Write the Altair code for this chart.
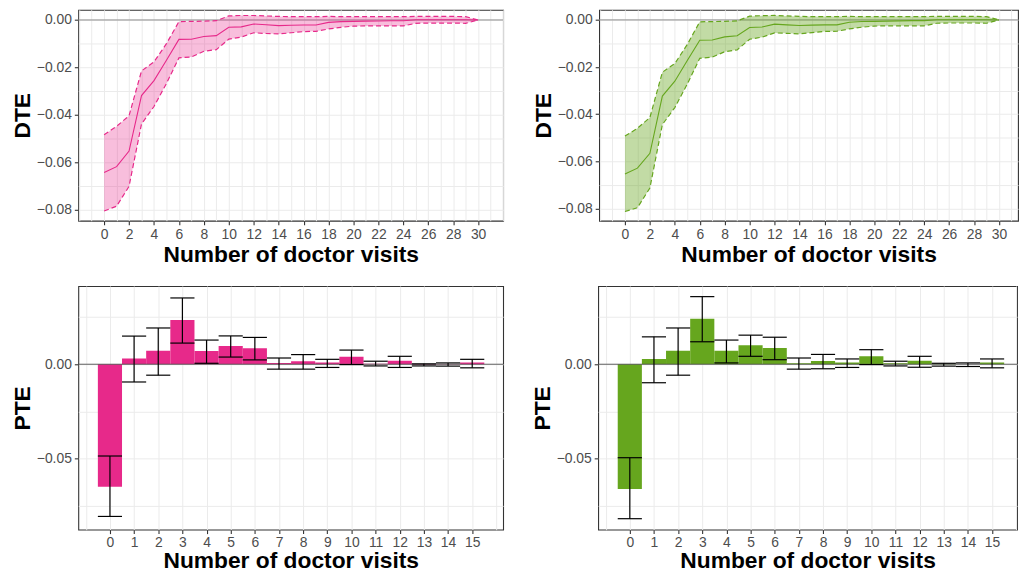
import altair as alt
import pandas as pd
import math

FONT = "Liberation Sans"
PINK = "#E7298A"
GREEN = "#66A61E"

# ---- DTE data (x = 0..30) ----
dte_x = list(range(31))
dte_pink = [-0.0644, -0.0619, -0.0553, -0.0319, -0.0256, -0.0170, -0.0082, -0.0081, -0.0070, -0.0066,
            -0.0031, -0.0029, -0.0017, -0.0020, -0.0024, -0.0022, -0.0021, -0.0021, -0.0010, -0.0007,
            -0.0006, -0.0005, -0.0004, -0.0003, -0.0003, 0.0001, 0.0001, 0.0001, 0.0001, 0.0001, 0.0000]
dte_pink_hi = [-0.0484, -0.0449, -0.0404, -0.0215, -0.0177, -0.0100, -0.0007, -0.0006, -0.0005, -0.0003,
               0.0017, 0.0019, 0.0019, 0.0017, 0.0015, 0.0014, 0.0014, 0.0014, 0.0015, 0.0014,
               0.0014, 0.0014, 0.0014, 0.0014, 0.0014, 0.0015, 0.0015, 0.0015, 0.0015, 0.0014, 0.0000]
dte_pink_lo = [-0.0806, -0.0786, -0.0702, -0.0439, -0.0365, -0.0268, -0.0160, -0.0156, -0.0132, -0.0125,
               -0.0081, -0.0072, -0.0054, -0.0057, -0.0059, -0.0054, -0.0049, -0.0048, -0.0038, -0.0031,
               -0.0026, -0.0025, -0.0025, -0.0025, -0.0025, -0.0014, -0.0013, -0.0013, -0.0013, -0.0014, 0.0000]

dte_green = [-0.0654, -0.0629, -0.0566, -0.0323, -0.0260, -0.0172, -0.0086, -0.0085, -0.0072, -0.0067,
             -0.0032, -0.0030, -0.0018, -0.0021, -0.0024, -0.0022, -0.0021, -0.0021, -0.0010, -0.0007,
             -0.0006, -0.0005, -0.0004, -0.0003, -0.0003, 0.0001, 0.0001, 0.0001, 0.0001, 0.0001, 0.0000]
dte_green_hi = [-0.0493, -0.0460, -0.0414, -0.0222, -0.0185, -0.0104, -0.0008, -0.0007, -0.0006, -0.0004,
                0.0016, 0.0018, 0.0019, 0.0017, 0.0015, 0.0014, 0.0014, 0.0014, 0.0015, 0.0014,
                0.0014, 0.0014, 0.0014, 0.0014, 0.0014, 0.0015, 0.0015, 0.0015, 0.0015, 0.0014, 0.0000]
dte_green_lo = [-0.0813, -0.0797, -0.0713, -0.0444, -0.0372, -0.0272, -0.0163, -0.0158, -0.0135, -0.0127,
                -0.0082, -0.0073, -0.0055, -0.0057, -0.0059, -0.0054, -0.0049, -0.0048, -0.0038, -0.0031,
                -0.0026, -0.0025, -0.0025, -0.0025, -0.0025, -0.0014, -0.0013, -0.0013, -0.0013, -0.0014, 0.0000]

# ---- PTE data (x = 0..15) ----
pte_x = list(range(16))
pte_pink = [-0.0649, 0.0030, 0.0072, 0.0234, 0.0070, 0.0096, 0.0084, 0.0007,
            0.0016, 0.0009, 0.0040, 0.0003, 0.0019, -0.0003, -0.0002, 0.0009]
pte_pink_hi = [-0.0486, 0.0149, 0.0192, 0.0351, 0.0128, 0.0150, 0.0142, 0.0033,
               0.0051, 0.0026, 0.0075, 0.0016, 0.0042, 0.0002, 0.0007, 0.0026]
pte_pink_lo = [-0.0806, -0.0094, -0.0058, 0.0112, 0.0005, 0.0038, 0.0023, -0.0026,
               -0.0026, -0.0017, -0.0002, -0.0009, -0.0017, -0.0009, -0.0010, -0.0019]

pte_green = [-0.0661, 0.0028, 0.0072, 0.0241, 0.0072, 0.0101, 0.0086, 0.0005,
             0.0017, 0.0009, 0.0042, 0.0005, 0.0019, -0.0002, 0.0000, 0.0009]
pte_green_hi = [-0.0495, 0.0145, 0.0192, 0.0358, 0.0128, 0.0154, 0.0143, 0.0033,
                0.0052, 0.0028, 0.0077, 0.0016, 0.0042, 0.0005, 0.0007, 0.0028]
pte_green_lo = [-0.0818, -0.0098, -0.0058, 0.0119, 0.0007, 0.0042, 0.0024, -0.0026,
                -0.0024, -0.0017, -0.0002, -0.0009, -0.0016, -0.0010, -0.0012, -0.0019]

X_TITLE = "Number of doctor visits"

TOP_H = 213
BOT_H = 246
PINK_W = 429
GREEN_W = 423
DTE_UNIT = 12.59   # px per visit, top row
PTE_UNIT = 24.39   # px per visit, bottom row


def dte_panel(vals, lo, hi, color, opacity, width, ydom):
    xdom = [-2.07, -2.07 + width / DTE_UNIT]
    df = pd.DataFrame({"x": dte_x, "y": vals, "lo": lo, "hi": hi})
    base = alt.Chart(df)
    xaxis = alt.Axis(
        values=list(range(-2, int(math.floor(xdom[1])) + 1)),
        labelExpr="(datum.value % 2 == 0 && datum.value >= 0 && datum.value <= 30) ? datum.label : ''",
        tickColor={"condition": {"test": "datum.value % 2 != 0 || datum.value < 0 || datum.value > 30",
                                 "value": "transparent"}, "value": "#333333"},
        format="d", labelFlush=False, labelOverlap=False, labelPadding=3, titlePadding=2,
    )
    yaxis = alt.Axis(
        values=[-0.08, -0.07, -0.06, -0.05, -0.04, -0.03, -0.02, -0.01, 0.0], format=".2f",
        labelExpr="(round(abs(datum.value) * 100) % 2 == 0) ? datum.label : ''",
        tickColor={"condition": {"test": "round(abs(datum.value) * 100) % 2 != 0",
                                 "value": "transparent"}, "value": "#333333"},
        labelFlush=False, labelOverlap=False,
    )
    xs = alt.Scale(domain=xdom, nice=False, zero=False)
    ys = alt.Scale(domain=ydom, nice=False, zero=False)

    def X(f):
        return alt.X(f, scale=xs, axis=xaxis, title=X_TITLE)

    def Y(f):
        return alt.Y(f, scale=ys, axis=yaxis, title="DTE")

    zero = alt.Chart(pd.DataFrame({"z": [0.0]})).mark_rule(color="#8c8c8c", strokeWidth=1).encode(y=Y("z:Q"))
    area = base.mark_area(color=color, opacity=opacity, clip=True).encode(x=X("x:Q"), y=Y("lo:Q"), y2="hi:Q")
    upper = base.mark_line(color=color, strokeWidth=1.2, strokeDash=[5, 3], clip=True).encode(
        x=X("x:Q"), y=Y("hi:Q"))
    lower = base.mark_line(color=color, strokeWidth=1.2, strokeDash=[5, 3], clip=True).encode(
        x=X("x:Q"), y=Y("lo:Q"))
    mid = base.mark_line(color=color, strokeWidth=1.1, clip=True).encode(x=X("x:Q"), y=Y("y:Q"))
    return alt.layer(zero, area, upper, lower, mid).properties(width=width, height=TOP_H)


def pte_panel(vals, lo, hi, color, width, ydom):
    xdom = [-1.31, -1.31 + width / PTE_UNIT]
    df = pd.DataFrame({"x": pte_x, "y": vals, "lo": lo, "hi": hi})
    df["xl"] = df["x"] - 0.5
    df["xr"] = df["x"] + 0.5
    base = alt.Chart(df)
    xaxis = alt.Axis(
        values=[v / 2 for v in range(-2, int(math.floor(xdom[1] * 2)) + 1)],
        labelExpr="(datum.value % 1 == 0 && datum.value >= 0 && datum.value <= 15) ? datum.label : ''",
        tickColor={"condition": {"test": "datum.value % 1 != 0 || datum.value < 0 || datum.value > 15",
                                 "value": "transparent"}, "value": "#333333"},
        format="d", labelFlush=False, labelOverlap=False, labelPadding=2, titlePadding=0,
    )
    yaxis = alt.Axis(
        values=[-0.075, -0.05, -0.025, 0.0, 0.025], format=".2f",
        labelExpr="(round(abs(datum.value) * 1000) % 50 == 0) ? datum.label : ''",
        tickColor={"condition": {"test": "round(abs(datum.value) * 1000) % 50 != 0",
                                 "value": "transparent"}, "value": "#333333"},
        labelFlush=False, labelOverlap=False,
    )
    xs = alt.Scale(domain=xdom, nice=False, zero=False)
    ys = alt.Scale(domain=ydom, nice=False, zero=False)

    def X(f):
        return alt.X(f, scale=xs, axis=xaxis, title=X_TITLE)

    def Y(f):
        return alt.Y(f, scale=ys, axis=yaxis, title="PTE")

    bars = base.mark_rect(color=color, clip=True).encode(
        x=X("xl:Q"), x2="xr:Q", y=Y("y:Q"), y2=alt.datum(0))
    zero = alt.Chart(pd.DataFrame({"z": [0.0]})).mark_rule(color="#4d4d4d", strokeWidth=0.9).encode(y=Y("z:Q"))
    stem = base.mark_rule(color="black", strokeWidth=1.2).encode(x=X("x:Q"), y=Y("lo:Q"), y2="hi:Q")
    cap_hi = base.mark_rule(color="black", strokeWidth=1.2).encode(x=X("xl:Q"), x2="xr:Q", y=Y("hi:Q"))
    cap_lo = base.mark_rule(color="black", strokeWidth=1.2).encode(x=X("xl:Q"), x2="xr:Q", y=Y("lo:Q"))
    return alt.layer(bars, zero, stem, cap_hi, cap_lo).properties(width=width, height=BOT_H)


top_row = alt.hconcat(
    dte_panel(dte_pink, dte_pink_lo, dte_pink_hi, PINK, 0.3, PINK_W, [-0.0847, 0.0043]),
    dte_panel(dte_green, dte_green_lo, dte_green_hi, GREEN, 0.4, GREEN_W, [-0.0852, 0.0043]),
    spacing=27,
)
bot_row = alt.hconcat(
    pte_panel(pte_pink, pte_pink_lo, pte_pink_hi, PINK, PINK_W, [-0.0876, 0.0414]),
    pte_panel(pte_green, pte_green_lo, pte_green_hi, GREEN, GREEN_W, [-0.0876, 0.0414]),
    spacing=27,
)

chart = alt.vconcat(top_row, bot_row, spacing=18).properties(
    padding={"left": 3, "top": -2, "right": 0, "bottom": 0}
).configure(background="white").configure_axis(
    labelFont=FONT, labelFontSize=14, labelColor="#4D4D4D",
    titleFont=FONT, titleFontSize=23, titleFontWeight="bold", titleColor="#000000",
    tickSize=4, tickWidth=1.1, domain=False,
    gridColor="#EBEBEB", gridWidth=1,
).configure_axisY(titlePadding=2, labelPadding=3).configure_view(
    stroke="#333333", strokeWidth=1.1
)

chart.save("out.html", embed_options={"renderer": "svg", "actions": False})
